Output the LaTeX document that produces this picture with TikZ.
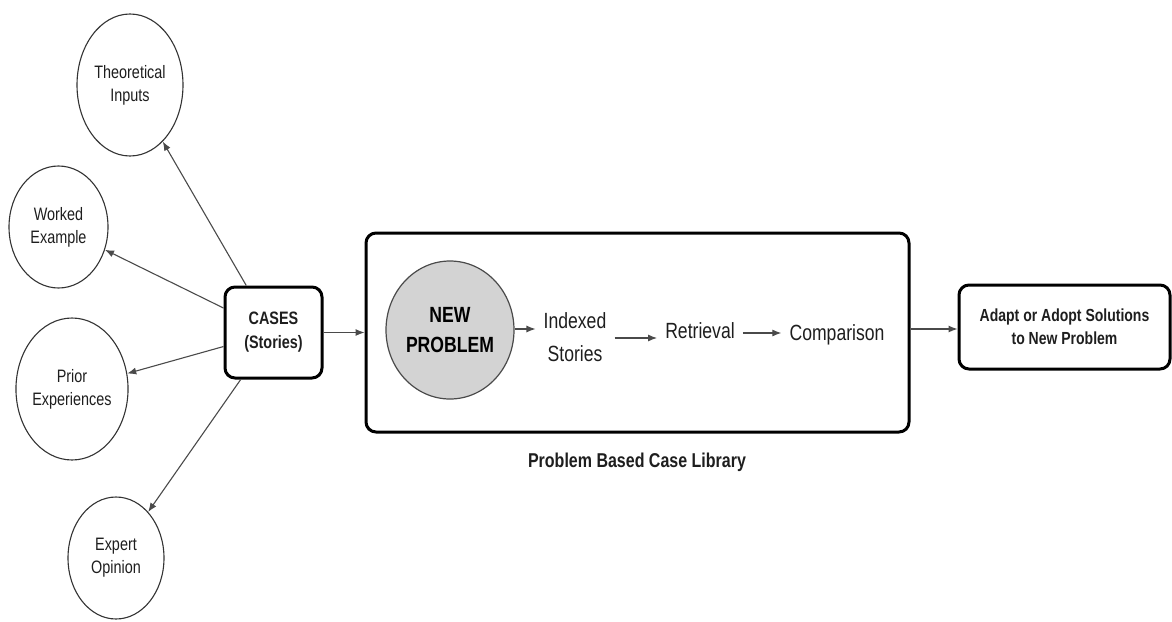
\documentclass[tikz,border=0pt]{standalone}
\usepackage{fontspec}
\setmainfont{Liberation Sans}[FakeStretch=0.8]
\usetikzlibrary{arrows.meta,shapes.geometric,calc}
\definecolor{txt}{HTML}{1E1E1E}
\definecolor{edge}{HTML}{333333}
\definecolor{arr}{HTML}{4A4A4A}
\definecolor{npfill}{HTML}{D3D3D3}
\tikzset{
  src/.style={ellipse,draw=edge,line width=1.1pt,inner sep=0pt,align=center,text=txt,
    font=\fontsize{18}{23}\selectfont},
  bigbox/.style={rectangle,rounded corners=10pt,draw=black,line width=3pt,inner sep=0pt},
  word/.style={inner sep=8pt,align=center,text=txt,font=\fontsize{22}{33}\selectfont},
  con/.style={draw=arr,line width=1.1pt,-{Latex[length=9pt,width=7pt]}},
}
\begin{document}
\begin{tikzpicture}[x=1pt,y=-1pt]
\useasboundingbox (0,0) rectangle (1172,621);
% source ellipses
\node[src,minimum width=106pt,minimum height=142pt] (ti) at (130,85) {Theoretical\\Inputs};
\node[src,minimum width=99pt,minimum height=122pt] (we) at (58.5,227) {Worked\\Example};
\node[src,minimum width=110pt,minimum height=142pt] (pe) at (72,389) {Prior\\Experiences};
\node[src,minimum width=96pt,minimum height=122pt] (eo) at (116,558) {Expert\\Opinion};
% cases box
\node[bigbox,minimum width=97pt,minimum height=91pt,align=center,text=txt,
  font=\bfseries\fontsize{18}{24}\selectfont] (cases) at (273.5,332.5) {CASES\\(Stories)};
% library box
\node[bigbox,minimum width=543pt,minimum height=199pt] (lib) at (637.5,332.5) {};
\node[font=\bfseries\fontsize{20}{24}\selectfont,text=txt] (libl) at (637,462) {Problem Based Case Library};
% new problem
\node[ellipse,draw=arr,line width=1.2pt,fill=npfill,minimum width=128pt,minimum height=138pt,
  inner sep=0pt,align=center,text=black,font=\bfseries\fontsize{22}{30}\selectfont] (np) at (450,330) {NEW\\PROBLEM};
\node[word] (idx) at (575,337) {Indexed\\Stories};
\node[word] (ret) at (700,330.5) {Retrieval};
\node[word] (cmp) at (837,335) {Comparison};
% adapt box
\node[bigbox,minimum width=211pt,minimum height=84pt,align=center,text=txt,
  font=\bfseries\fontsize{17.5}{23}\selectfont] (adapt) at (1064.5,327) {Adapt or Adopt Solutions\\to New Problem};
% connectors
\draw[con] (cases) -- (ti);
\draw[con] (cases) -- (we);
\draw[con] (cases) -- (pe);
\draw[con] (cases) -- (eo);
\draw[con] (cases.east) -- (cases.east -| lib.west);
\draw[con] (np.east |- 0,329) -- (idx.west |- 0,329);
\draw[con] (idx.east |- 0,338) -- (ret.west |- 0,338);
\draw[con] (ret.east |- 0,333) -- (cmp.west |- 0,333);
\draw[con] (lib.east |- 0,329) -- (adapt.west |- 0,329);
\end{tikzpicture}
\end{document}
